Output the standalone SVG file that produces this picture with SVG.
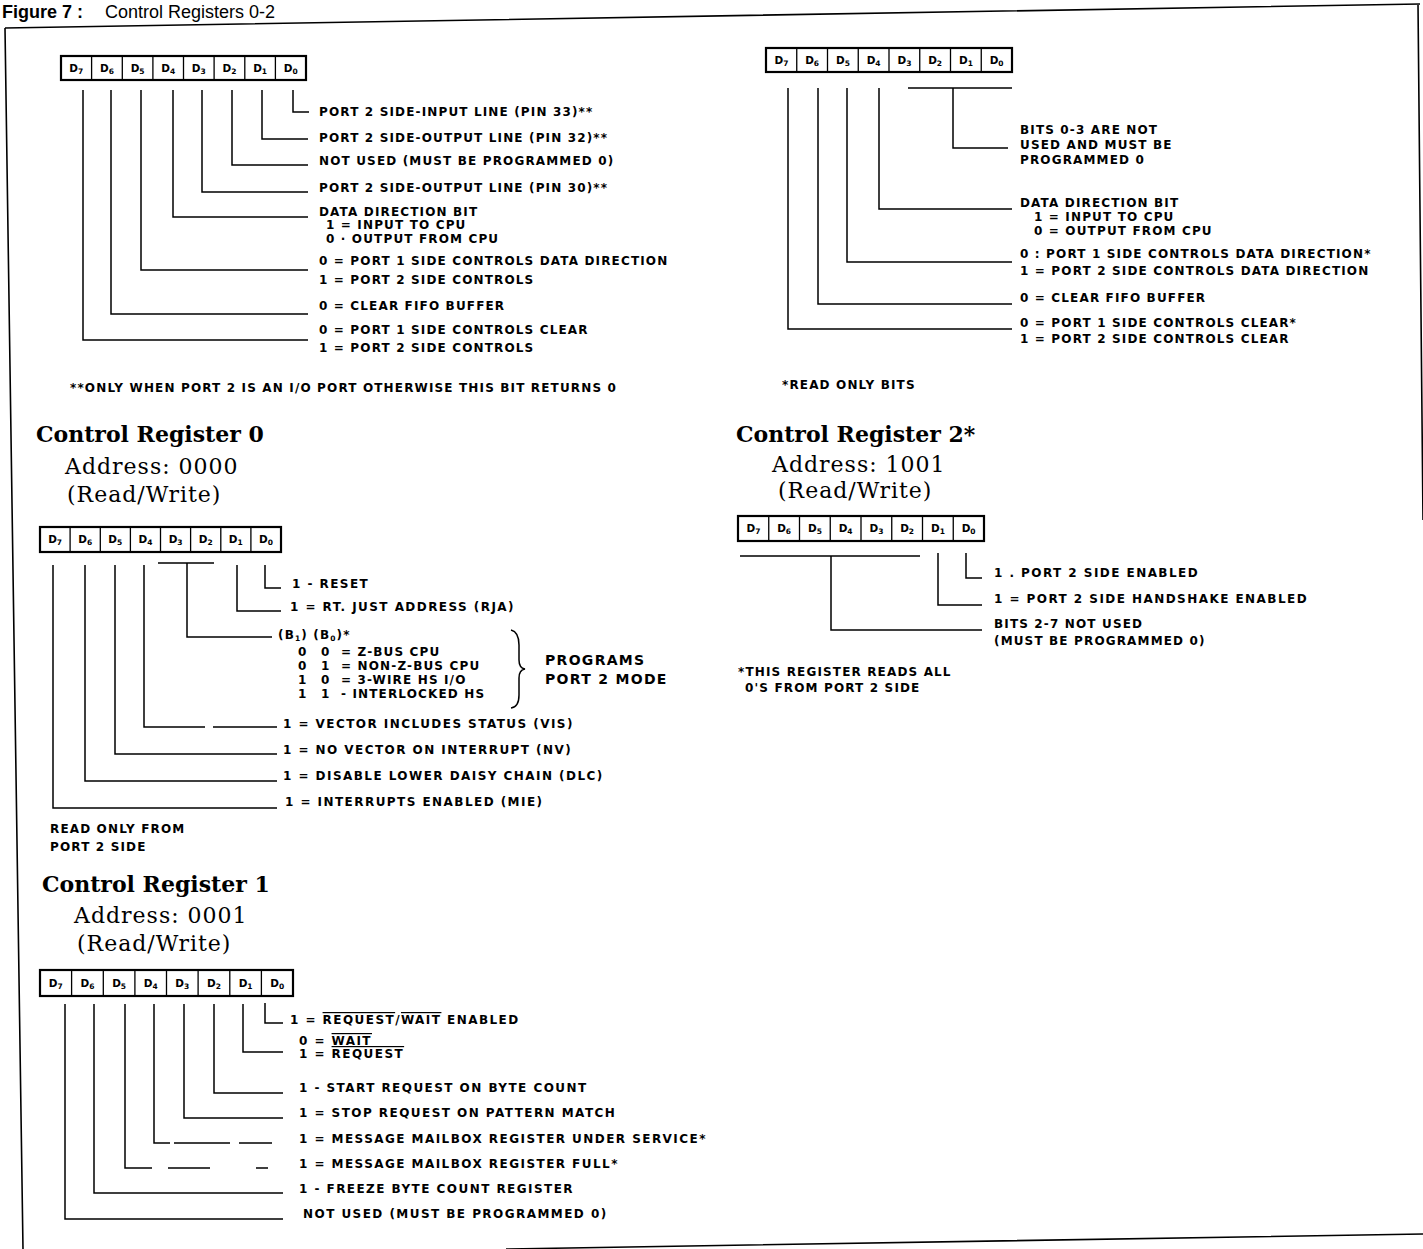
<svg xmlns="http://www.w3.org/2000/svg" width="1423" height="1249" viewBox="0 0 1423 1249">
<style>
.frame{fill:none;stroke:#000;stroke-width:1.6}
.box{fill:#fff;stroke:#000;stroke-width:2.2}
.dv{fill:none;stroke:#000;stroke-width:1.3}
.cn{fill:none;stroke:#000;stroke-width:1.5}
.cell{font-family:"DejaVu Sans","Liberation Sans",sans-serif;font-weight:bold;font-size:10.5px;fill:#000;text-anchor:middle}
.sub{font-size:7.5px}
.lbl{font-family:"DejaVu Sans","Liberation Sans",sans-serif;font-weight:bold;font-size:12px;letter-spacing:1.15px;fill:#000}
.wide{letter-spacing:1.45px}
.big{font-size:14px;letter-spacing:1.3px}
.title{font-family:"DejaVu Serif","Liberation Serif",serif;font-weight:bold;font-size:22px;fill:#000}
.addr{font-family:"DejaVu Serif","Liberation Serif",serif;font-size:22px;letter-spacing:1px;fill:#000}
.hdr{font-family:"Liberation Sans",Arial,sans-serif;font-size:18px;fill:#000}
</style>

<g id="header">
<text class="hdr" x="2" y="18"><tspan font-weight="bold">Figure 7 :</tspan><tspan x="105">Control Registers 0-2</tspan></text>
</g>

<g id="frame">
<path class="frame" d="M5,28 L1420,4 M5,28 L23,1249 M1418,4 L1423,520 M506,1249 L1423,1234"/>
</g>

<g id="register-top-left">
<rect class="box" x="61" y="56" width="245" height="24"/>
<path class="dv" d="M91.6,56V80M122.3,56V80M152.9,56V80M183.5,56V80M214.1,56V80M244.8,56V80M275.4,56V80"/>
<text class="cell" y="72"><tspan x="76.3">D<tspan class="sub" dy="2">7</tspan></tspan></text>
<text class="cell" y="72"><tspan x="106.9">D<tspan class="sub" dy="2">6</tspan></tspan></text>
<text class="cell" y="72"><tspan x="137.6">D<tspan class="sub" dy="2">5</tspan></tspan></text>
<text class="cell" y="72"><tspan x="168.2">D<tspan class="sub" dy="2">4</tspan></tspan></text>
<text class="cell" y="72"><tspan x="198.8">D<tspan class="sub" dy="2">3</tspan></tspan></text>
<text class="cell" y="72"><tspan x="229.4">D<tspan class="sub" dy="2">2</tspan></tspan></text>
<text class="cell" y="72"><tspan x="260.1">D<tspan class="sub" dy="2">1</tspan></tspan></text>
<text class="cell" y="72"><tspan x="290.7">D<tspan class="sub" dy="2">0</tspan></tspan></text>
<text class="lbl" x="319" y="116">PORT 2 SIDE-INPUT LINE (PIN 33)**</text>
<text class="lbl" x="319" y="142">PORT 2 SIDE-OUTPUT LINE (PIN 32)**</text>
<text class="lbl" x="319" y="165">NOT USED (MUST BE PROGRAMMED 0)</text>
<text class="lbl" x="319" y="192">PORT 2 SIDE-OUTPUT LINE (PIN 30)**</text>
<text class="lbl" x="319" y="216">DATA DIRECTION BIT</text>
<text class="lbl" x="326" y="229">1 = INPUT TO CPU</text>
<text class="lbl" x="326" y="243">0 · OUTPUT FROM CPU</text>
<text class="lbl" x="319" y="265">0 = PORT 1 SIDE CONTROLS DATA DIRECTION</text>
<text class="lbl" x="319" y="284">1 = PORT 2 SIDE CONTROLS</text>
<text class="lbl" x="319" y="310">0 = CLEAR FIFO BUFFER</text>
<text class="lbl" x="319" y="334">0 = PORT 1 SIDE CONTROLS CLEAR</text>
<text class="lbl" x="319" y="352">1 = PORT 2 SIDE CONTROLS</text>
<text class="lbl" x="70" y="392">**ONLY WHEN PORT 2 IS AN I/O PORT OTHERWISE THIS BIT RETURNS 0</text>
</g>

<g id="register-top-right">
<rect class="box" x="766" y="48" width="246" height="24"/>
<path class="dv" d="M796.75,48V72M827.5,48V72M858.25,48V72M889,48V72M919.75,48V72M950.5,48V72M981.25,48V72"/>
<text class="cell" y="64"><tspan x="781.4">D<tspan class="sub" dy="2">7</tspan></tspan></text>
<text class="cell" y="64"><tspan x="812.1">D<tspan class="sub" dy="2">6</tspan></tspan></text>
<text class="cell" y="64"><tspan x="842.9">D<tspan class="sub" dy="2">5</tspan></tspan></text>
<text class="cell" y="64"><tspan x="873.6">D<tspan class="sub" dy="2">4</tspan></tspan></text>
<text class="cell" y="64"><tspan x="904.4">D<tspan class="sub" dy="2">3</tspan></tspan></text>
<text class="cell" y="64"><tspan x="935.1">D<tspan class="sub" dy="2">2</tspan></tspan></text>
<text class="cell" y="64"><tspan x="965.9">D<tspan class="sub" dy="2">1</tspan></tspan></text>
<text class="cell" y="64"><tspan x="996.6">D<tspan class="sub" dy="2">0</tspan></tspan></text>
<text class="lbl" x="1020" y="134">BITS 0-3 ARE NOT</text>
<text class="lbl" x="1020" y="149">USED AND MUST BE</text>
<text class="lbl" x="1020" y="164">PROGRAMMED 0</text>
<text class="lbl" x="1020" y="207">DATA DIRECTION BIT</text>
<text class="lbl" x="1034" y="221">1 = INPUT TO CPU</text>
<text class="lbl" x="1034" y="235">0 = OUTPUT FROM CPU</text>
<text class="lbl" x="1020" y="258">0 : PORT 1 SIDE CONTROLS DATA DIRECTION*</text>
<text class="lbl" x="1020" y="275">1 = PORT 2 SIDE CONTROLS DATA DIRECTION</text>
<text class="lbl" x="1020" y="302">0 = CLEAR FIFO BUFFER</text>
<text class="lbl" x="1020" y="327">0 = PORT 1 SIDE CONTROLS CLEAR*</text>
<text class="lbl" x="1020" y="343">1 = PORT 2 SIDE CONTROLS CLEAR</text>
<text class="lbl" x="782" y="389">*READ ONLY BITS</text>
</g>

<g id="control-register-0">
<text class="title" x="36" y="442">Control Register 0</text>
<text class="addr" x="65" y="474">Address: 0000</text>
<text class="addr" x="67" y="502">(Read/Write)</text>
<rect class="box" x="40" y="527" width="241" height="25"/>
<path class="dv" d="M70.1,527V552M100.3,527V552M130.4,527V552M160.5,527V552M190.6,527V552M220.8,527V552M250.9,527V552"/>
<text class="cell" y="543"><tspan x="55.1">D<tspan class="sub" dy="2">7</tspan></tspan></text>
<text class="cell" y="543"><tspan x="85.2">D<tspan class="sub" dy="2">6</tspan></tspan></text>
<text class="cell" y="543"><tspan x="115.3">D<tspan class="sub" dy="2">5</tspan></tspan></text>
<text class="cell" y="543"><tspan x="145.4">D<tspan class="sub" dy="2">4</tspan></tspan></text>
<text class="cell" y="543"><tspan x="175.6">D<tspan class="sub" dy="2">3</tspan></tspan></text>
<text class="cell" y="543"><tspan x="205.7">D<tspan class="sub" dy="2">2</tspan></tspan></text>
<text class="cell" y="543"><tspan x="235.8">D<tspan class="sub" dy="2">1</tspan></tspan></text>
<text class="cell" y="543"><tspan x="265.9">D<tspan class="sub" dy="2">0</tspan></tspan></text>
<text class="lbl wide" x="292" y="588">1 - RESET</text>
<text class="lbl wide" x="290" y="611">1 = RT. JUST ADDRESS (RJA)</text>
<text class="lbl" x="278" y="639">(B<tspan class="sub" dy="2">1</tspan><tspan dy="-2">) (B</tspan><tspan class="sub" dy="2">0</tspan><tspan dy="-2">)*</tspan></text>
<text class="lbl" y="656"><tspan x="298">0</tspan><tspan x="321">0</tspan><tspan x="341">= Z-BUS CPU</tspan></text>
<text class="lbl" y="670"><tspan x="298">0</tspan><tspan x="321">1</tspan><tspan x="341">= NON-Z-BUS CPU</tspan></text>
<text class="lbl" y="684"><tspan x="298">1</tspan><tspan x="321">0</tspan><tspan x="341">= 3-WIRE HS I/O</tspan></text>
<text class="lbl" y="698"><tspan x="298">1</tspan><tspan x="321">1</tspan><tspan x="341">- INTERLOCKED HS</tspan></text>
<text class="lbl big" x="545" y="665">PROGRAMS</text>
<text class="lbl big" x="545" y="684">PORT 2 MODE</text>
<text class="lbl wide" x="283" y="728">1 = VECTOR INCLUDES STATUS (VIS)</text>
<text class="lbl wide" x="283" y="754">1 = NO VECTOR ON INTERRUPT (NV)</text>
<text class="lbl wide" x="283" y="780">1 = DISABLE LOWER DAISY CHAIN (DLC)</text>
<text class="lbl wide" x="285" y="806">1 = INTERRUPTS ENABLED (MIE)</text>
<text class="lbl" x="50" y="833">READ ONLY FROM</text>
<text class="lbl" x="50" y="851">PORT 2 SIDE</text>
</g>

<g id="control-register-2">
<text class="title" x="736" y="442">Control Register 2*</text>
<text class="addr" x="772" y="472">Address: 1001</text>
<text class="addr" x="778" y="498">(Read/Write)</text>
<rect class="box" x="738" y="516" width="246" height="25"/>
<path class="dv" d="M768.75,516V541M799.5,516V541M830.25,516V541M861,516V541M891.75,516V541M922.5,516V541M953.25,516V541"/>
<text class="cell" y="532"><tspan x="753.4">D<tspan class="sub" dy="2">7</tspan></tspan></text>
<text class="cell" y="532"><tspan x="784.1">D<tspan class="sub" dy="2">6</tspan></tspan></text>
<text class="cell" y="532"><tspan x="814.9">D<tspan class="sub" dy="2">5</tspan></tspan></text>
<text class="cell" y="532"><tspan x="845.6">D<tspan class="sub" dy="2">4</tspan></tspan></text>
<text class="cell" y="532"><tspan x="876.4">D<tspan class="sub" dy="2">3</tspan></tspan></text>
<text class="cell" y="532"><tspan x="907.1">D<tspan class="sub" dy="2">2</tspan></tspan></text>
<text class="cell" y="532"><tspan x="937.9">D<tspan class="sub" dy="2">1</tspan></tspan></text>
<text class="cell" y="532"><tspan x="968.6">D<tspan class="sub" dy="2">0</tspan></tspan></text>
<text class="lbl wide" x="994" y="577">1 . PORT 2 SIDE ENABLED</text>
<text class="lbl wide" x="994" y="603">1 = PORT 2 SIDE HANDSHAKE ENABLED</text>
<text class="lbl" x="994" y="628">BITS 2-7 NOT USED</text>
<text class="lbl" x="994" y="645">(MUST BE PROGRAMMED 0)</text>
<text class="lbl" x="738" y="676">*THIS REGISTER READS ALL</text>
<text class="lbl" x="745" y="692">0'S FROM PORT 2 SIDE</text>
</g>

<g id="control-register-1">
<text class="title" x="42" y="892">Control Register 1</text>
<text class="addr" x="74" y="923">Address: 0001</text>
<text class="addr" x="77" y="951">(Read/Write)</text>
<rect class="box" x="40" y="970" width="253" height="26"/>
<path class="dv" d="M71.6,970V996M103.3,970V996M134.9,970V996M166.5,970V996M198.1,970V996M229.8,970V996M261.4,970V996"/>
<text class="cell" y="987"><tspan x="55.8">D<tspan class="sub" dy="2">7</tspan></tspan></text>
<text class="cell" y="987"><tspan x="87.4">D<tspan class="sub" dy="2">6</tspan></tspan></text>
<text class="cell" y="987"><tspan x="119.1">D<tspan class="sub" dy="2">5</tspan></tspan></text>
<text class="cell" y="987"><tspan x="150.7">D<tspan class="sub" dy="2">4</tspan></tspan></text>
<text class="cell" y="987"><tspan x="182.3">D<tspan class="sub" dy="2">3</tspan></tspan></text>
<text class="cell" y="987"><tspan x="213.9">D<tspan class="sub" dy="2">2</tspan></tspan></text>
<text class="cell" y="987"><tspan x="245.6">D<tspan class="sub" dy="2">1</tspan></tspan></text>
<text class="cell" y="987"><tspan x="277.2">D<tspan class="sub" dy="2">0</tspan></tspan></text>
<text class="lbl wide" x="290" y="1024">1 = <tspan text-decoration="overline">REQUEST</tspan>/<tspan text-decoration="overline">WAIT</tspan> ENABLED</text>
<text class="lbl wide" x="299" y="1045">0 = <tspan text-decoration="overline">WAIT</tspan></text>
<text class="lbl wide" x="299" y="1058">1 = <tspan text-decoration="overline">REQUEST</tspan></text>
<text class="lbl wide" x="299" y="1092">1 - START REQUEST ON BYTE COUNT</text>
<text class="lbl wide" x="299" y="1117">1 = STOP REQUEST ON PATTERN MATCH</text>
<text class="lbl wide" x="299" y="1143">1 = MESSAGE MAILBOX REGISTER UNDER SERVICE*</text>
<text class="lbl wide" x="299" y="1168">1 = MESSAGE MAILBOX REGISTER FULL*</text>
<text class="lbl wide" x="299" y="1193">1 - FREEZE BYTE COUNT REGISTER</text>
<text class="lbl wide" x="303" y="1218">NOT USED (MUST BE PROGRAMMED 0)</text>
</g>

<g id="connectors">
<path class="cn" d="M293,90V112H309 M262,90V139H308 M232,90V165H308 M202,90V192H308 M173,90V217H308 M141,90V270H308 M111,90V314H308 M83,90V340H308"/>
<path class="cn" d="M908,88H1012 M953,88V148H1008 M879,88V209H1012 M847,88V262H1012 M818,88V304H1012 M788,88V329H1012"/>
<path class="cn" d="M265,565V588H281 M237,565V611H281 M158,563H214 M187,563V637H272 M144,565V727H205 M213,727H277 M115,565V754H277 M85,565V781H277 M53,565V808H277"/>
<path class="cn" d="M511,630 Q519,632 519,645 L519,660 Q519,668 525,669 Q519,670 519,678 L519,695 Q519,707 511,708"/>
<path class="cn" d="M740,556H920 M831,556V630H982 M938,553V605H982 M966,553V578H982"/>
<path class="cn" d="M265,1003V1023H283 M243,1004V1052H283 M214,1004V1093H283 M184,1004V1118H283 M154,1004V1143H170 M174,1143H230 M239,1143H272 M125,1004V1168H152 M168,1168H210 M256,1168H268 M94,1004V1193H283 M65,1004V1219H283"/>
</g>
</svg>
